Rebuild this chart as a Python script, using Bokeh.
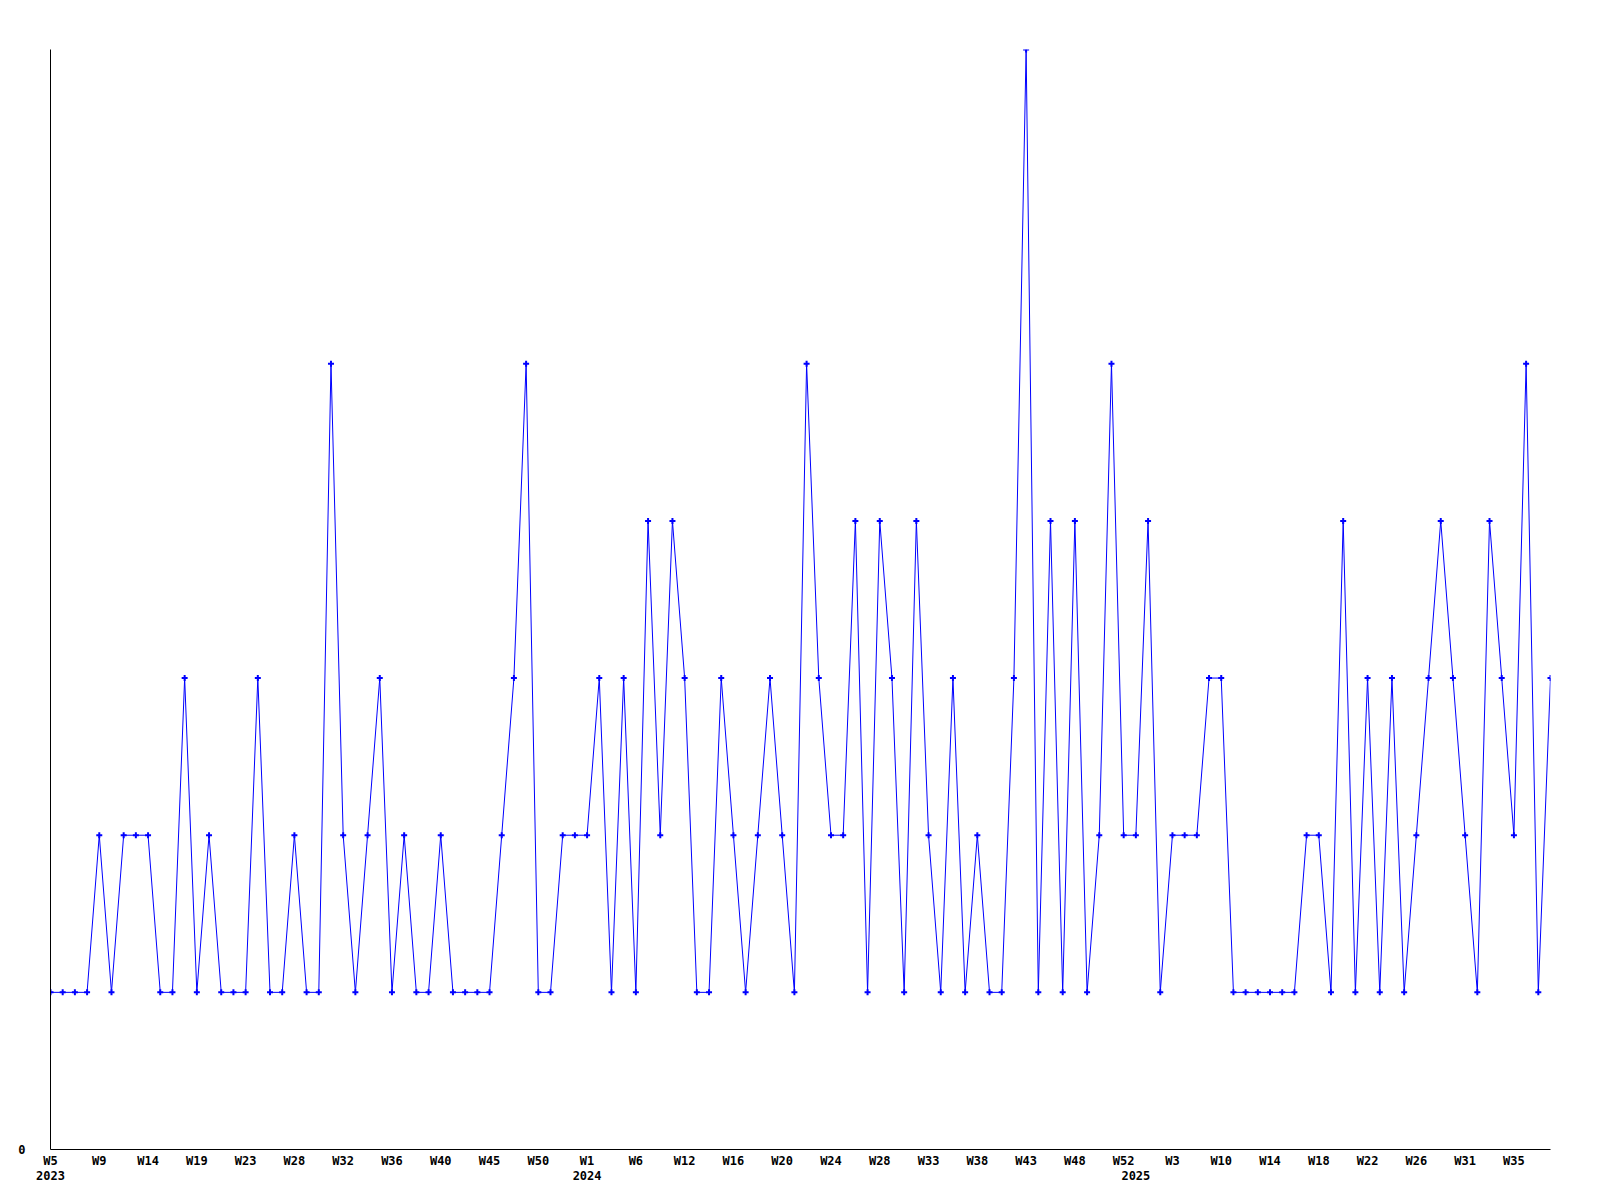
from bokeh.plotting import figure
from bokeh.models import FixedTicker, LinearAxis, Range1d
from bokeh.embed import file_html
from bokeh.resources import INLINE

# weekly counts, one point per reported week (2023 W5 ... 2025)
values = [
    1, 1, 1, 1, 2, 1, 2, 2, 2, 1, 1, 3, 1, 2, 1, 1, 1, 3, 1, 1, 2, 1, 1, 5, 2,
    1, 2, 3, 1, 2, 1, 1, 2, 1, 1, 1, 1, 2, 3, 5, 1, 1, 2, 2, 2,
    3, 1, 3, 1, 4, 2, 4, 3, 1, 1, 3, 2, 1, 2, 3, 2, 1, 5, 3, 2, 2, 4, 1, 4, 3,
    1, 4, 2, 1, 3, 1, 2, 1, 1, 3, 7, 1, 4, 1, 4, 1, 2, 5,
    2, 2, 4, 1, 2, 2, 2, 3, 3, 1, 1, 1, 1, 1, 1, 2, 2, 1, 4, 1, 3, 1, 3, 1, 2,
    3, 4, 3, 2, 1, 4, 3, 2, 5, 1, 3,
]

# tick labels, shown on every 4th point
week_labels = [
    "W5", "W9", "W14", "W19", "W23", "W28", "W32", "W36", "W40", "W45", "W50",
    "W1", "W6", "W12", "W16", "W20", "W24", "W28", "W33", "W38", "W43", "W48", "W52",
    "W3", "W10", "W14", "W18", "W22", "W26", "W31", "W35",
]
tick_step = 4

year_labels = ["2023", "2024", "2025"]
year_start_index = [0, 44, 89]

y_max = 7

x = list(range(len(values)))
n = len(values)

FONT = "DejaVu Sans Mono"
FSIZE = "12px"

p = figure(
    frame_width=1500, frame_height=1100,
    output_backend="svg", toolbar_location=None,
    x_range=Range1d(0, n - 1), y_range=Range1d(0, y_max),
    min_border_left=50, min_border_top=49, min_border_right=34, min_border_bottom=35,
)
p.grid.visible = False
p.outline_line_color = None
p.background_fill_color = "white"
p.border_fill_color = "white"

week_ticks = list(range(0, n, tick_step))[: len(week_labels)]
xa = p.xaxis[0]
xa.ticker = FixedTicker(ticks=week_ticks)
xa.major_label_overrides = {t: lab for t, lab in zip(week_ticks, week_labels)}
xa.major_tick_out = 0
xa.major_tick_in = 0
xa.minor_tick_out = 0
xa.minor_tick_in = 0
xa.major_label_standoff = 4
xa.axis_line_color = "black"
xa.axis_line_width = 1
xa.major_label_text_font = FONT
xa.major_label_text_font_style = "bold"
xa.major_label_text_font_size = FSIZE
xa.major_label_text_color = "black"

ya = p.yaxis[0]
ya.ticker = FixedTicker(ticks=[0])
ya.major_tick_out = 0
ya.major_tick_in = 0
ya.minor_tick_out = 0
ya.minor_tick_in = 0
ya.major_label_standoff = 25
ya.axis_line_color = "black"
ya.major_label_text_font = FONT
ya.major_label_text_font_style = "bold"
ya.major_label_text_font_size = FSIZE
ya.major_label_text_color = "black"

year_axis = LinearAxis(
    ticker=FixedTicker(ticks=year_start_index),
    major_label_overrides={t: lab for t, lab in zip(year_start_index, year_labels)},
    axis_line_color=None,
    major_tick_line_color=None,
    minor_tick_line_color=None,
    major_tick_out=0, major_tick_in=0, minor_tick_out=0, minor_tick_in=0,
    major_label_standoff=0,
    major_label_text_font=FONT,
    major_label_text_font_style="bold",
    major_label_text_font_size=FSIZE,
    major_label_text_color="black",
)
p.add_layout(year_axis, "below")

p.line(x, values, line_color="#0000ff", line_width=1)
p.scatter(x, values, marker="cross", size=6, line_color="#0000ff", line_width=2)

open("out.html", "w").write(file_html(p, INLINE))
